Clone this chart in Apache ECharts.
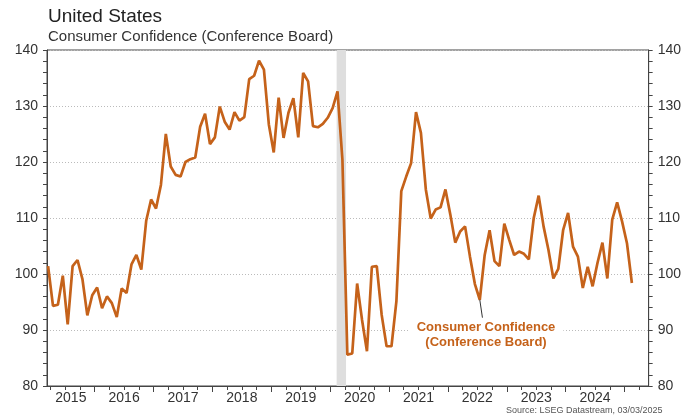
<!DOCTYPE html>
<html>
<head>
<meta charset="utf-8">
<script src="https://cdn.jsdelivr.net/npm/echarts@6/dist/echarts.min.js"></script>
<style>
  html, body { margin: 0; padding: 0; background: #fff; }
  #chart { width: 684px; height: 416px; }
</style>
</head>
<body>
<div id="chart"></div>
<script>
// Conference Board consumer confidence, monthly, Mar 2015 .. Feb 2025
const firstMonth = { year: 2015, month: 3 }
const confidence = [
  101.4, 94.3, 94.5, 99.7, 91.0, 101.4, 102.5, 99.1, 92.6, 96.2,
  97.6, 93.9, 96.0, 94.8, 92.3, 97.4, 96.6, 101.7, 103.4, 100.8,
  109.5, 113.3, 111.7, 115.9, 125.0, 119.2, 117.7, 117.4, 120.0, 120.5,
  120.8, 126.3, 128.6, 123.2, 124.4, 129.9, 127.2, 125.8, 128.9, 127.4,
  128.0, 134.8, 135.4, 138.1, 136.5, 126.7, 121.7, 131.5, 124.3, 128.8,
  131.4, 124.4, 135.9, 134.4, 126.4, 126.2, 126.8, 127.9, 129.6, 132.6,
  120.4, 85.6, 85.8, 98.3, 91.8, 86.2, 101.3, 101.4, 92.7, 87.1,
  87.1, 95.1, 114.8, 117.4, 119.8, 128.9, 125.2, 115.1, 109.9, 111.5,
  111.9, 115.1, 110.6, 105.6, 107.6, 108.5, 103.1, 98.2, 95.4, 103.4,
  107.8, 102.3, 101.4, 109.0, 106.1, 103.4, 104.0, 103.6, 102.6, 110.0,
  114.0, 108.5, 104.3, 99.2, 100.9, 107.9, 110.9, 104.9, 103.1, 97.5,
  101.3, 97.8, 102.0, 105.6, 99.2, 109.7, 112.8, 109.4, 105.5, 98.4,
]
const yearLabels = [2015, 2016, 2017, 2018, 2019, 2020, 2021, 2022, 2023, 2024]
const yearTicks = [2016, 2017, 2018, 2019, 2020, 2021, 2022, 2023, 2024, 2025]
const recession = [2020.11, 2020.27] // shaded Covid recession, fractional years
const calloutIndex = 88 // Jul 2022 low, the label's leader line points here

const xMin = 2015.19
const xMax = 2025.41
const lineColor = '#c5621a'
const axisColor = '#444'
const font = 'Liberation Sans'

// plot each month at its middle, as fractional years
function monthPos(i) {
  return firstMonth.year + (firstMonth.month - 1 + i + 0.5) / 12
}
const points = confidence.map((v, i) => [monthPos(i), v])

// year label sits in the middle of the visible part of that year
const labelPos = yearLabels.map(y => (Math.max(y, xMin) + Math.min(y + 1, xMax)) / 2)

const quarterTicks = []
for (let y = 2015; y <= 2025; y++) {
  for (let q = 0; q < 4; q++) {
    const t = y + q / 4
    if (t > xMin && t < xMax) quarterTicks.push(t)
  }
}

const yAxisBase = {
  type: 'value',
  min: 80,
  max: 140,
  interval: 10,
  axisLine: { show: true, lineStyle: { color: axisColor } },
  axisTick: { show: true, length: 4, lineStyle: { color: axisColor } },
  minorTick: { show: true, splitNumber: 5, length: 4, lineStyle: { color: axisColor } },
  axisLabel: { fontSize: 14, color: '#333', margin: 9, fontFamily: font },
}

const chart = echarts.init(document.getElementById('chart'))

const callout = points[calloutIndex]

chart.setOption({
  animation: false,
  backgroundColor: '#fff',
  title: [
    {
      text: 'United States',
      left: 48,
      top: 7,
      padding: 0,
      textStyle: { fontSize: 19, fontWeight: 'normal', color: '#222', fontFamily: font },
    },
    {
      text: 'Consumer Confidence (Conference Board)',
      left: 48,
      top: 29,
      padding: 0,
      textStyle: { fontSize: 15, fontWeight: 'normal', color: '#333', fontFamily: font },
    },
  ],
  grid: {
    left: 47,
    right: 34,
    top: 50,
    bottom: 30,
    show: true,
    borderColor: axisColor,
    borderWidth: 1,
  },
  xAxis: [
    {
      type: 'value',
      min: xMin,
      max: xMax,
      axisLine: { show: true, onZero: false, lineStyle: { color: axisColor } },
      axisTick: { show: true, customValues: quarterTicks, length: 4, lineStyle: { color: axisColor } },
      axisLabel: {
        customValues: labelPos,
        formatter: v => String(Math.floor(v)),
        fontSize: 14,
        color: '#333',
        margin: 5,
        fontFamily: font,
      },
      splitLine: { show: false },
    },
    {
      type: 'value',
      min: xMin,
      max: xMax,
      position: 'bottom',
      axisLine: { show: false },
      axisTick: { show: true, customValues: yearTicks, length: 6, lineStyle: { color: axisColor } },
      axisLabel: { show: false },
      splitLine: { show: false },
    },
  ],
  yAxis: [
    {
      ...yAxisBase,
      position: 'left',
      splitLine: { show: true, lineStyle: { type: [1, 2], color: '#bbb' } },
    },
    {
      ...yAxisBase,
      position: 'right',
      splitLine: { show: false },
    },
  ],
  series: [
    {
      type: 'line',
      data: points,
      showSymbol: false,
      symbol: 'none',
      lineStyle: { color: lineColor, width: 2.7 },
      z: 3,
      markArea: {
        silent: true,
        itemStyle: { color: '#dedede' },
        data: [[{ xAxis: recession[0] }, { xAxis: recession[1] }]],
      },
      markLine: {
        silent: true,
        symbol: 'none',
        label: { show: false },
        lineStyle: { color: '#333', width: 1, type: 'solid' },
        data: [[{ coord: callout }, { coord: [callout[0] + 0.045, 92.2] }]],
      },
    },
  ],
  graphic: [
    {
      type: 'text',
      x: 486,
      y: 320,
      z: 10,
      style: {
        text: 'Consumer Confidence\n(Conference Board)',
        fill: lineColor,
        font: 'bold 13px "Liberation Sans"',
        align: 'center',
        textAlign: 'center',
        verticalAlign: 'top',
        textVerticalAlign: 'top',
        lineHeight: 15,
        backgroundColor: '#fff',
        padding: [0, 8],
      },
    },
    {
      type: 'text',
      x: 506,
      y: 406,
      style: {
        text: 'Source: LSEG Datastream, 03/03/2025',
        fill: '#555',
        font: '9px "Liberation Sans"',
      },
    },
  ],
})
</script>
</body>
</html>
